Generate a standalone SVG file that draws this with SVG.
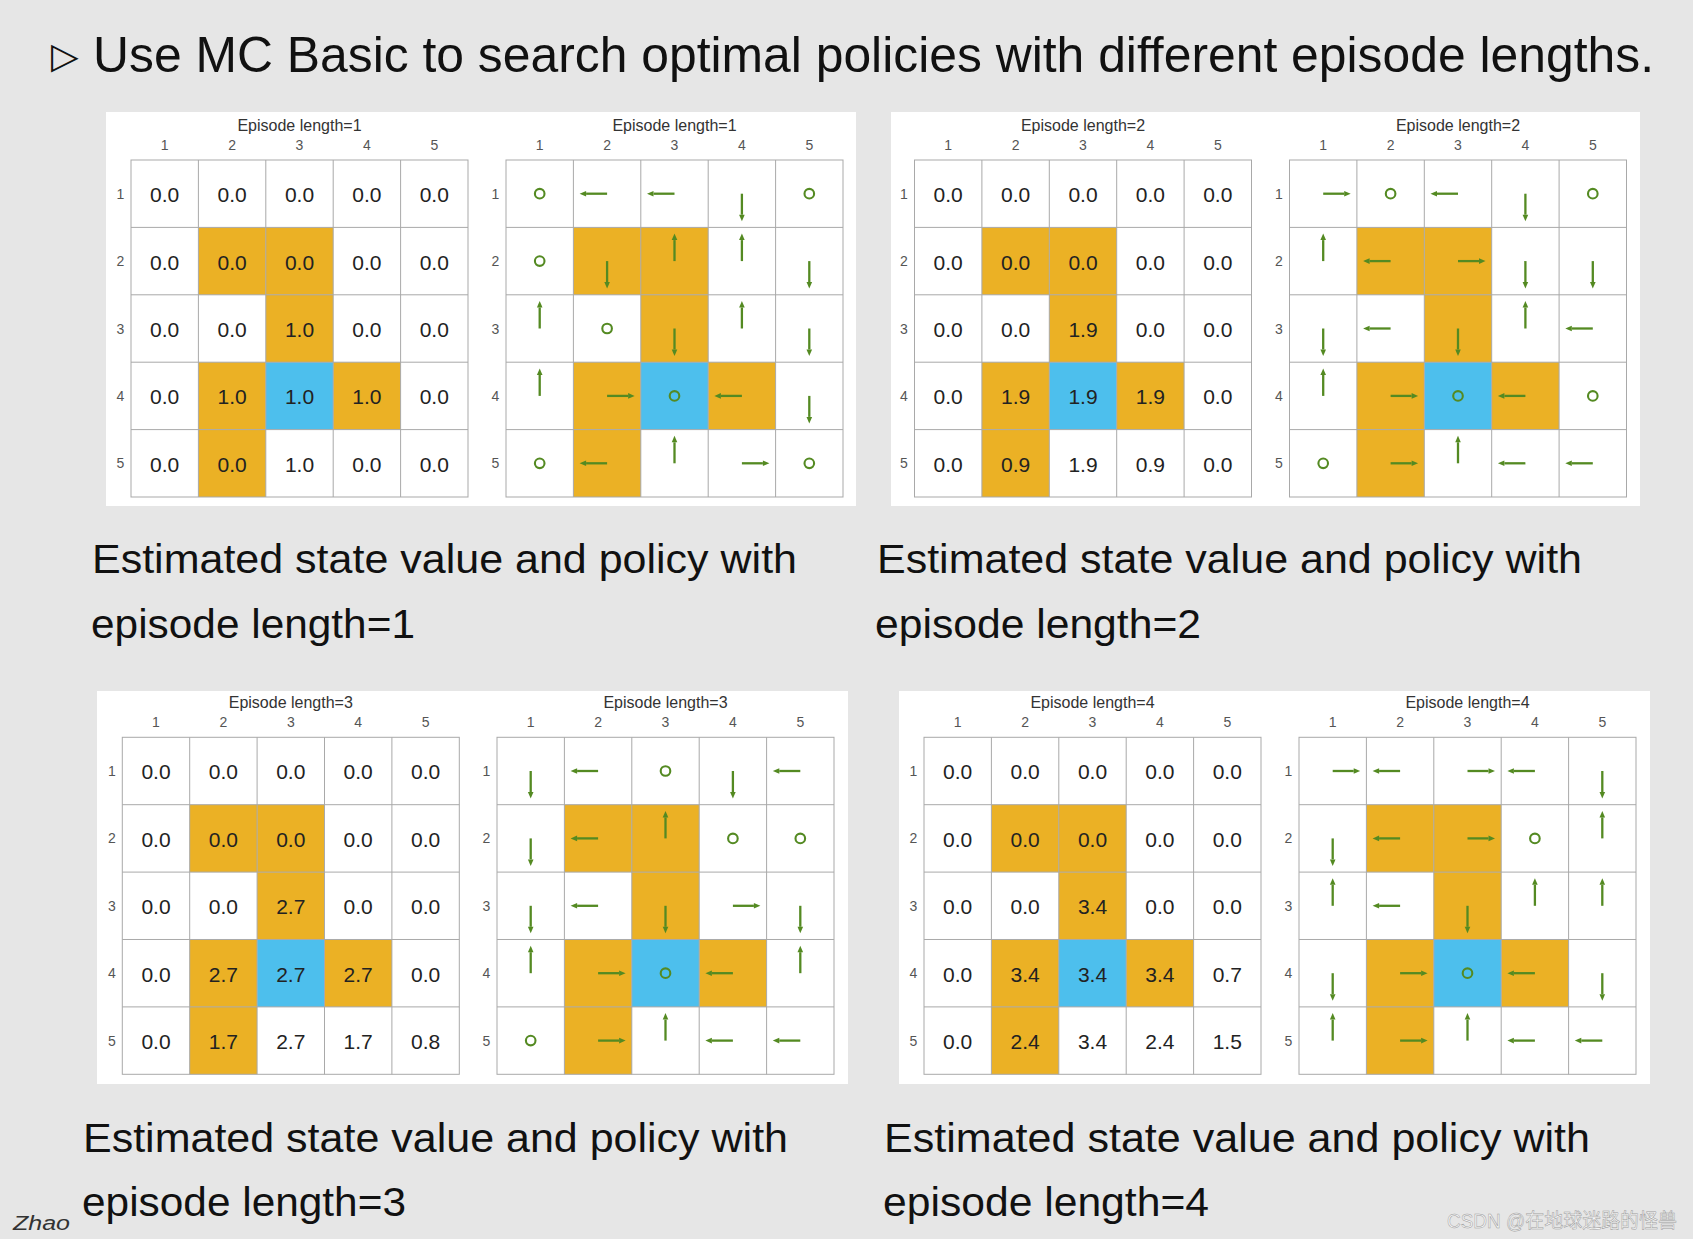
<svg xmlns="http://www.w3.org/2000/svg" width="1693" height="1239" viewBox="0 0 1693 1239">
<style>
.bg{fill:#e6e6e6}
.panel{fill:#ffffff}
.gl{stroke:#a9a9a9;stroke-width:1;fill:none}
.fb{fill:#ebb125}
.tg{fill:#4dbfed}
.v{font-family:"Liberation Sans",Arial,sans-serif;font-size:21px;fill:#222;text-anchor:middle}
.lab{font-family:"Liberation Sans",Arial,sans-serif;font-size:14px;fill:#555;text-anchor:middle}
.ttl{font-family:"Liberation Sans",Arial,sans-serif;font-size:16px;fill:#333;text-anchor:middle}
.cap{font-family:"Liberation Sans",Arial,sans-serif;font-size:41px;fill:#111}
.arw{stroke:#548a22;stroke-width:2.3;fill:none}
.hd{fill:#548a22}
</style>
<defs>
<g id="cells">
<rect class="fb" x="67.4" y="67.4" width="67.4" height="67.4"/>
<rect class="fb" x="134.8" y="67.4" width="67.4" height="67.4"/>
<rect class="fb" x="134.8" y="134.8" width="67.4" height="67.4"/>
<rect class="fb" x="67.4" y="202.2" width="67.4" height="67.4"/>
<rect class="fb" x="202.2" y="202.2" width="67.4" height="67.4"/>
<rect class="fb" x="67.4" y="269.6" width="67.4" height="67.4"/>
<rect class="tg" x="134.8" y="202.2" width="67.4" height="67.4"/>
</g>
<g id="frame">
<rect class="gl" x="0" y="0" width="337" height="337"/>
<path class="gl" d="M67.4,0V337M134.8,0V337M202.2,0V337M269.6,0V337M0,67.4H337M0,134.8H337M0,202.2H337M0,269.6H337"/>
</g>
<g id="labels">
<text class="lab" x="33.7" y="-10">1</text><text class="lab" x="101.1" y="-10">2</text><text class="lab" x="168.5" y="-10">3</text><text class="lab" x="235.9" y="-10">4</text><text class="lab" x="303.3" y="-10">5</text>
<text class="lab" x="-10.5" y="38.7">1</text><text class="lab" x="-10.5" y="106.1">2</text><text class="lab" x="-10.5" y="173.5">3</text><text class="lab" x="-10.5" y="240.9">4</text><text class="lab" x="-10.5" y="308.3">5</text>
</g>
<g id="L"><path class="arw" d="M0,0H-21"/><path class="hd" d="M-27.5,0L-21,-2.8L-21,2.8z"/></g>
<g id="R"><path class="arw" d="M0,0H21"/><path class="hd" d="M27.5,0L21,-2.8L21,2.8z"/></g>
<g id="U"><path class="arw" d="M0,0V-21"/><path class="hd" d="M0,-27.5L-2.8,-21L2.8,-21z"/></g>
<g id="D"><path class="arw" d="M0,0V21"/><path class="hd" d="M0,27.5L-2.8,21L2.8,21z"/></g>
<circle id="O" r="4.8" cx="0" cy="0" fill="none" stroke="#548a22" stroke-width="2.1"/>
</defs>

<rect class="bg" x="0" y="0" width="1693" height="1239"/>

<g id="header">
<text x="51" y="68" font-family="DejaVu Sans,sans-serif" font-size="36" fill="#111">▷</text>
<text x="93" y="72" font-family="Liberation Sans,Arial,sans-serif" font-size="50" fill="#111" textLength="1561" lengthAdjust="spacingAndGlyphs">Use MC Basic to search optimal policies with different episode lengths.</text>
</g>

<!-- Panel 1 -->
<g id="panel-ep1">
<rect class="panel" x="106" y="112" width="750" height="394"/>
<g id="value-ep1" transform="translate(131,160)">
<use href="#cells"/><use href="#frame"/><use href="#labels"/>
<text class="ttl" x="168.5" y="-29">Episode length=1</text>
<text class="v" y="42.2"><tspan x="33.7">0.0</tspan><tspan x="101.1">0.0</tspan><tspan x="168.5">0.0</tspan><tspan x="235.9">0.0</tspan><tspan x="303.3">0.0</tspan></text>
<text class="v" y="109.6"><tspan x="33.7">0.0</tspan><tspan x="101.1">0.0</tspan><tspan x="168.5">0.0</tspan><tspan x="235.9">0.0</tspan><tspan x="303.3">0.0</tspan></text>
<text class="v" y="177"><tspan x="33.7">0.0</tspan><tspan x="101.1">0.0</tspan><tspan x="168.5">1.0</tspan><tspan x="235.9">0.0</tspan><tspan x="303.3">0.0</tspan></text>
<text class="v" y="244.4"><tspan x="33.7">0.0</tspan><tspan x="101.1">1.0</tspan><tspan x="168.5">1.0</tspan><tspan x="235.9">1.0</tspan><tspan x="303.3">0.0</tspan></text>
<text class="v" y="311.8"><tspan x="33.7">0.0</tspan><tspan x="101.1">0.0</tspan><tspan x="168.5">1.0</tspan><tspan x="235.9">0.0</tspan><tspan x="303.3">0.0</tspan></text>
</g>
<g id="policy-ep1" transform="translate(506,160)">
<use href="#cells"/><use href="#frame"/><use href="#labels"/>
<text class="ttl" x="168.5" y="-29">Episode length=1</text>
<use href="#O" x="33.7" y="33.7"/><use href="#L" x="101.1" y="33.7"/><use href="#L" x="168.5" y="33.7"/><use href="#D" x="235.9" y="33.7"/><use href="#O" x="303.3" y="33.7"/>
<use href="#O" x="33.7" y="101.1"/><use href="#D" x="101.1" y="101.1"/><use href="#U" x="168.5" y="101.1"/><use href="#U" x="235.9" y="101.1"/><use href="#D" x="303.3" y="101.1"/>
<use href="#U" x="33.7" y="168.5"/><use href="#O" x="101.1" y="168.5"/><use href="#D" x="168.5" y="168.5"/><use href="#U" x="235.9" y="168.5"/><use href="#D" x="303.3" y="168.5"/>
<use href="#U" x="33.7" y="235.9"/><use href="#R" x="101.1" y="235.9"/><use href="#O" x="168.5" y="235.9"/><use href="#L" x="235.9" y="235.9"/><use href="#D" x="303.3" y="235.9"/>
<use href="#O" x="33.7" y="303.3"/><use href="#L" x="101.1" y="303.3"/><use href="#U" x="168.5" y="303.3"/><use href="#R" x="235.9" y="303.3"/><use href="#O" x="303.3" y="303.3"/>
</g>
</g>

<!-- Panel 2 -->
<g id="panel-ep2">
<rect class="panel" x="891" y="112" width="749" height="394"/>
<g id="value-ep2" transform="translate(914.5,160)">
<use href="#cells"/><use href="#frame"/><use href="#labels"/>
<text class="ttl" x="168.5" y="-29">Episode length=2</text>
<text class="v" y="42.2"><tspan x="33.7">0.0</tspan><tspan x="101.1">0.0</tspan><tspan x="168.5">0.0</tspan><tspan x="235.9">0.0</tspan><tspan x="303.3">0.0</tspan></text>
<text class="v" y="109.6"><tspan x="33.7">0.0</tspan><tspan x="101.1">0.0</tspan><tspan x="168.5">0.0</tspan><tspan x="235.9">0.0</tspan><tspan x="303.3">0.0</tspan></text>
<text class="v" y="177"><tspan x="33.7">0.0</tspan><tspan x="101.1">0.0</tspan><tspan x="168.5">1.9</tspan><tspan x="235.9">0.0</tspan><tspan x="303.3">0.0</tspan></text>
<text class="v" y="244.4"><tspan x="33.7">0.0</tspan><tspan x="101.1">1.9</tspan><tspan x="168.5">1.9</tspan><tspan x="235.9">1.9</tspan><tspan x="303.3">0.0</tspan></text>
<text class="v" y="311.8"><tspan x="33.7">0.0</tspan><tspan x="101.1">0.9</tspan><tspan x="168.5">1.9</tspan><tspan x="235.9">0.9</tspan><tspan x="303.3">0.0</tspan></text>
</g>
<g id="policy-ep2" transform="translate(1289.5,160)">
<use href="#cells"/><use href="#frame"/><use href="#labels"/>
<text class="ttl" x="168.5" y="-29">Episode length=2</text>
<use href="#R" x="33.7" y="33.7"/><use href="#O" x="101.1" y="33.7"/><use href="#L" x="168.5" y="33.7"/><use href="#D" x="235.9" y="33.7"/><use href="#O" x="303.3" y="33.7"/>
<use href="#U" x="33.7" y="101.1"/><use href="#L" x="101.1" y="101.1"/><use href="#R" x="168.5" y="101.1"/><use href="#D" x="235.9" y="101.1"/><use href="#D" x="303.3" y="101.1"/>
<use href="#D" x="33.7" y="168.5"/><use href="#L" x="101.1" y="168.5"/><use href="#D" x="168.5" y="168.5"/><use href="#U" x="235.9" y="168.5"/><use href="#L" x="303.3" y="168.5"/>
<use href="#U" x="33.7" y="235.9"/><use href="#R" x="101.1" y="235.9"/><use href="#O" x="168.5" y="235.9"/><use href="#L" x="235.9" y="235.9"/><use href="#O" x="303.3" y="235.9"/>
<use href="#O" x="33.7" y="303.3"/><use href="#R" x="101.1" y="303.3"/><use href="#U" x="168.5" y="303.3"/><use href="#L" x="235.9" y="303.3"/><use href="#L" x="303.3" y="303.3"/>
</g>
</g>

<!-- Panel 3 -->
<g id="panel-ep3">
<rect class="panel" x="97" y="691" width="751" height="393"/>
<g id="value-ep3" transform="translate(122.3,737.3)">
<use href="#cells"/><use href="#frame"/><use href="#labels"/>
<text class="ttl" x="168.5" y="-29">Episode length=3</text>
<text class="v" y="42.2"><tspan x="33.7">0.0</tspan><tspan x="101.1">0.0</tspan><tspan x="168.5">0.0</tspan><tspan x="235.9">0.0</tspan><tspan x="303.3">0.0</tspan></text>
<text class="v" y="109.6"><tspan x="33.7">0.0</tspan><tspan x="101.1">0.0</tspan><tspan x="168.5">0.0</tspan><tspan x="235.9">0.0</tspan><tspan x="303.3">0.0</tspan></text>
<text class="v" y="177"><tspan x="33.7">0.0</tspan><tspan x="101.1">0.0</tspan><tspan x="168.5">2.7</tspan><tspan x="235.9">0.0</tspan><tspan x="303.3">0.0</tspan></text>
<text class="v" y="244.4"><tspan x="33.7">0.0</tspan><tspan x="101.1">2.7</tspan><tspan x="168.5">2.7</tspan><tspan x="235.9">2.7</tspan><tspan x="303.3">0.0</tspan></text>
<text class="v" y="311.8"><tspan x="33.7">0.0</tspan><tspan x="101.1">1.7</tspan><tspan x="168.5">2.7</tspan><tspan x="235.9">1.7</tspan><tspan x="303.3">0.8</tspan></text>
</g>
<g id="policy-ep3" transform="translate(497,737.3)">
<use href="#cells"/><use href="#frame"/><use href="#labels"/>
<text class="ttl" x="168.5" y="-29">Episode length=3</text>
<use href="#D" x="33.7" y="33.7"/><use href="#L" x="101.1" y="33.7"/><use href="#O" x="168.5" y="33.7"/><use href="#D" x="235.9" y="33.7"/><use href="#L" x="303.3" y="33.7"/>
<use href="#D" x="33.7" y="101.1"/><use href="#L" x="101.1" y="101.1"/><use href="#U" x="168.5" y="101.1"/><use href="#O" x="235.9" y="101.1"/><use href="#O" x="303.3" y="101.1"/>
<use href="#D" x="33.7" y="168.5"/><use href="#L" x="101.1" y="168.5"/><use href="#D" x="168.5" y="168.5"/><use href="#R" x="235.9" y="168.5"/><use href="#D" x="303.3" y="168.5"/>
<use href="#U" x="33.7" y="235.9"/><use href="#R" x="101.1" y="235.9"/><use href="#O" x="168.5" y="235.9"/><use href="#L" x="235.9" y="235.9"/><use href="#U" x="303.3" y="235.9"/>
<use href="#O" x="33.7" y="303.3"/><use href="#R" x="101.1" y="303.3"/><use href="#U" x="168.5" y="303.3"/><use href="#L" x="235.9" y="303.3"/><use href="#L" x="303.3" y="303.3"/>
</g>
</g>

<!-- Panel 4 -->
<g id="panel-ep4">
<rect class="panel" x="899" y="691" width="751" height="393"/>
<g id="value-ep4" transform="translate(924,737.3)">
<use href="#cells"/><use href="#frame"/><use href="#labels"/>
<text class="ttl" x="168.5" y="-29">Episode length=4</text>
<text class="v" y="42.2"><tspan x="33.7">0.0</tspan><tspan x="101.1">0.0</tspan><tspan x="168.5">0.0</tspan><tspan x="235.9">0.0</tspan><tspan x="303.3">0.0</tspan></text>
<text class="v" y="109.6"><tspan x="33.7">0.0</tspan><tspan x="101.1">0.0</tspan><tspan x="168.5">0.0</tspan><tspan x="235.9">0.0</tspan><tspan x="303.3">0.0</tspan></text>
<text class="v" y="177"><tspan x="33.7">0.0</tspan><tspan x="101.1">0.0</tspan><tspan x="168.5">3.4</tspan><tspan x="235.9">0.0</tspan><tspan x="303.3">0.0</tspan></text>
<text class="v" y="244.4"><tspan x="33.7">0.0</tspan><tspan x="101.1">3.4</tspan><tspan x="168.5">3.4</tspan><tspan x="235.9">3.4</tspan><tspan x="303.3">0.7</tspan></text>
<text class="v" y="311.8"><tspan x="33.7">0.0</tspan><tspan x="101.1">2.4</tspan><tspan x="168.5">3.4</tspan><tspan x="235.9">2.4</tspan><tspan x="303.3">1.5</tspan></text>
</g>
<g id="policy-ep4" transform="translate(1299,737.3)">
<use href="#cells"/><use href="#frame"/><use href="#labels"/>
<text class="ttl" x="168.5" y="-29">Episode length=4</text>
<use href="#R" x="33.7" y="33.7"/><use href="#L" x="101.1" y="33.7"/><use href="#R" x="168.5" y="33.7"/><use href="#L" x="235.9" y="33.7"/><use href="#D" x="303.3" y="33.7"/>
<use href="#D" x="33.7" y="101.1"/><use href="#L" x="101.1" y="101.1"/><use href="#R" x="168.5" y="101.1"/><use href="#O" x="235.9" y="101.1"/><use href="#U" x="303.3" y="101.1"/>
<use href="#U" x="33.7" y="168.5"/><use href="#L" x="101.1" y="168.5"/><use href="#D" x="168.5" y="168.5"/><use href="#U" x="235.9" y="168.5"/><use href="#U" x="303.3" y="168.5"/>
<use href="#D" x="33.7" y="235.9"/><use href="#R" x="101.1" y="235.9"/><use href="#O" x="168.5" y="235.9"/><use href="#L" x="235.9" y="235.9"/><use href="#D" x="303.3" y="235.9"/>
<use href="#U" x="33.7" y="303.3"/><use href="#R" x="101.1" y="303.3"/><use href="#U" x="168.5" y="303.3"/><use href="#L" x="235.9" y="303.3"/><use href="#L" x="303.3" y="303.3"/>
</g>
</g>

<g id="captions">
<text class="cap" x="92" y="573" textLength="705" lengthAdjust="spacingAndGlyphs">Estimated state value and policy with</text>
<text class="cap" x="91" y="638" textLength="324" lengthAdjust="spacingAndGlyphs">episode length=1</text>
<text class="cap" x="877" y="573" textLength="705" lengthAdjust="spacingAndGlyphs">Estimated state value and policy with</text>
<text class="cap" x="875" y="638" textLength="326" lengthAdjust="spacingAndGlyphs">episode length=2</text>
<text class="cap" x="83" y="1152" textLength="705" lengthAdjust="spacingAndGlyphs">Estimated state value and policy with</text>
<text class="cap" x="82" y="1216" textLength="324" lengthAdjust="spacingAndGlyphs">episode length=3</text>
<text class="cap" x="884" y="1152" textLength="706" lengthAdjust="spacingAndGlyphs">Estimated state value and policy with</text>
<text class="cap" x="883" y="1216" textLength="326" lengthAdjust="spacingAndGlyphs">episode length=4</text>
</g>

<g id="footer">
<text x="13" y="1230" font-family="Liberation Sans,Arial,sans-serif" font-size="20" font-style="italic" fill="#333" textLength="57" lengthAdjust="spacingAndGlyphs">Zhao</text>
<text x="1447" y="1228" font-family="Liberation Sans,Noto Sans CJK SC,sans-serif" font-size="20" fill="#f6f6f6" stroke="#9a9a9a" stroke-width="0.5" textLength="230" lengthAdjust="spacingAndGlyphs">CSDN @在地球迷路的怪兽</text>
</g>
</svg>
